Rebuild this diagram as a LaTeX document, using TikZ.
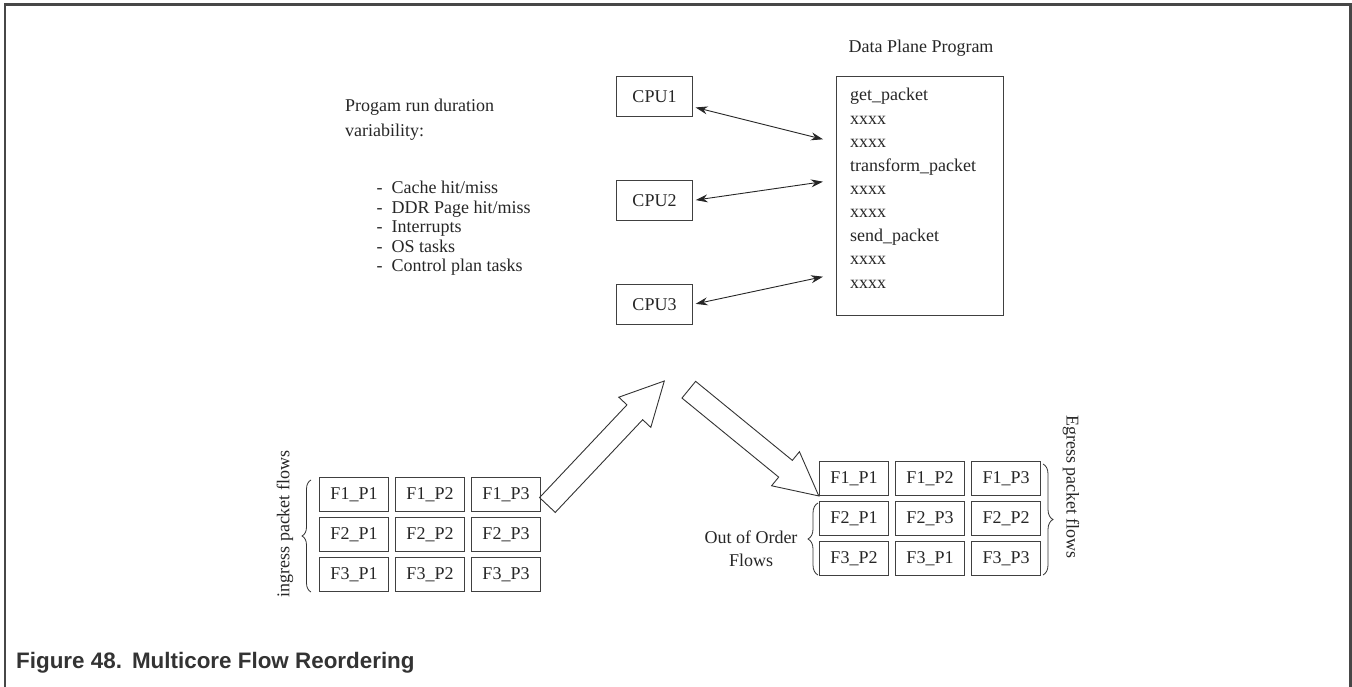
\documentclass[tikz,border=0pt]{standalone}
\usepackage{fontspec}
\setmainfont{Liberation Serif}
\newfontfamily\capfont{Liberation Sans}
\usetikzlibrary{calc,arrows.meta,decorations.pathreplacing}
\begin{document}
\begin{tikzpicture}[x=1pt,y=-1pt,
  txt/.style={font=\fontsize{18}{21}\selectfont, text=black!85, inner sep=0pt},
  box/.style={draw=black!75, line width=0.9pt, minimum width=69.5pt, minimum height=34pt, inner sep=0pt, font=\fontsize{18}{21}\selectfont, text=black!85},
  cpubox/.style={box, minimum width=75.5pt, minimum height=40pt},
  link/.style={draw=black!85, line width=0.9pt, {Stealth[length=12pt,width=8pt]}-{Stealth[length=12pt,width=8pt]}},
  blockarrow/.style={draw=black!80, line width=0.9pt, line join=miter},
  brc/.style={draw=black!80, line width=0.8pt, decorate, decoration={brace, amplitude=#1}},
  frame/.style={draw=black!72, line width=2.7pt}
]
\useasboundingbox (0,0) rectangle (1352,687);
% frame
\draw[frame] (5,687) -- (5,4.3) -- (1350.5,4.3) -- (1350.5,687);

% caption
\node[anchor=base west, inner sep=0pt, text=black!80, font=\capfont\fontsize{22.4}{26}\selectfont\bfseries] (cap) at (16,668) {Figure 48.\hspace{0.45em}Multicore Flow Reordering};

% left description
\node[txt, anchor=base west] (t1a) at (345,112) {Progam run duration};
\node[txt, anchor=base west] (t1b) at (345,137) {variability:};
\foreach \i/\s in {0/{Cache hit/miss},1/{DDR Page hit/miss},2/{Interrupts},3/{OS tasks},4/{Control plan tasks}}{
  \node[txt, anchor=base west] (dash\i) at (376.5,{194+19.5*\i}) {-};
  \node[txt, anchor=base west] (item\i) at (391.5,{194+19.5*\i}) {\s};
}

% CPUs
\node[cpubox] (cpu1) at (654.5,96.5) {CPU1};
\node[cpubox] (cpu2) at (654.5,200.5) {CPU2};
\node[cpubox] (cpu3) at (654.5,304.5) {CPU3};

% data plane program
\node[txt, anchor=base] (dptitle) at (921,53) {Data Plane Program};
\node[draw=black!75, line width=0.9pt, minimum width=167pt, minimum height=239pt, inner sep=0pt] (dp) at (919.5,195.5) {};
\foreach \i/\s in {0/get\_packet,1/xxxx,2/xxxx,3/transform\_packet,4/xxxx,5/xxxx,6/send\_packet,7/xxxx,8/xxxx}{
  \node[txt, anchor=base west] (line\i) at (850,{101+23.4*\i}) {\s};
}

\coordinate (d1) at (823,139.3);
\coordinate (d2) at (823,181.7);
\coordinate (d3) at (823,276.7);
\draw[link, shorten <=3pt] (cpu1.-15) -- (d1);
\draw[link, shorten <=3pt] (cpu2.east) -- (d2);
\draw[link, shorten <=3pt] (cpu3.east) -- (d3);

% ingress grid
\foreach \r in {1,2,3}{
  \foreach \c in {1,2,3}{
    \node[box] (l\r\c) at ({354+76*(\c-1)},{494.5+40*(\r-1)}) {F\r\_P\c};
  }
}
% egress grid
\node[box] (r11) at (854,478.5) {F1\_P1};
\node[box] (r12) at (930,478.5) {F1\_P2};
\node[box] (r13) at (1006,478.5) {F1\_P3};
\node[box] (r21) at (854,518.5) {F2\_P1};
\node[box] (r22) at (930,518.5) {F2\_P3};
\node[box] (r23) at (1006,518.5) {F2\_P2};
\node[box] (r31) at (854,558.5) {F3\_P2};
\node[box] (r32) at (930,558.5) {F3\_P1};
\node[box] (r33) at (1006,558.5) {F3\_P3};

% braces
\draw[brc=9pt] (311,592) -- (311,480);
\draw[brc=10pt] (1043,464) -- (1043,575);
\draw[brc=10pt] (818,575) -- (818,503);

% rotated labels
\node[txt, rotate=90] (ing) at (285,524) {ingress packet flows};
\node[txt, rotate=-90] (egr) at (1071,487) {Egress packet flows};
\node[txt, align=center, font=\fontsize{18}{23}\selectfont] (ooo) at (751,549) {Out of Order\\Flows};

% block arrows
\coordinate (ta) at (547.4,505);
\coordinate (ea) at (664.3,381);
\coordinate (ba) at ($(ea)!43pt!(ta)$);
\draw[blockarrow] ($(ta)!10.8pt!90:(ea)$) -- ($(ba)!10.8pt!90:(ea)$) -- ($(ba)!22pt!90:(ea)$) -- (ea)
  -- ($(ba)!22pt!-90:(ea)$) -- ($(ba)!10.8pt!-90:(ea)$) -- ($(ta)!10.8pt!-90:(ea)$) -- cycle;

\coordinate (tb) at (688.8,389.7);
\coordinate (eb) at (r11.south west);
\coordinate (bb) at ($(eb)!43pt!(tb)$);
\draw[blockarrow] ($(tb)!10.8pt!90:(eb)$) -- ($(bb)!10.8pt!90:(eb)$) -- ($(bb)!22pt!90:(eb)$) -- (eb)
  -- ($(bb)!22pt!-90:(eb)$) -- ($(bb)!10.8pt!-90:(eb)$) -- ($(tb)!10.8pt!-90:(eb)$) -- cycle;
\end{tikzpicture}
\end{document}
